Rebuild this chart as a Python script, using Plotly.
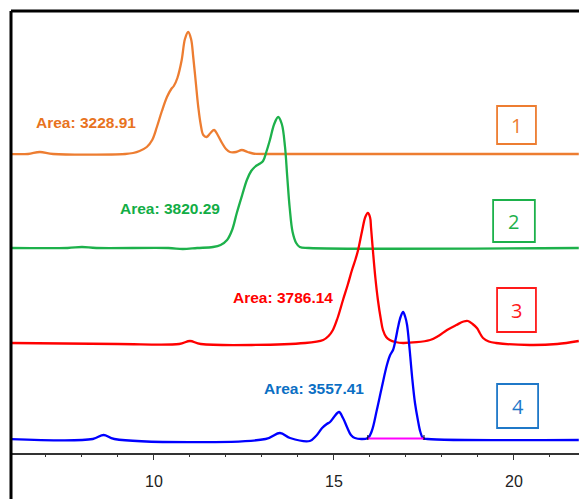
import plotly.graph_objects as go

# ---- data (retention time in min, signal in arbitrary units above each trace's baseline) ----
x1 = [6.0, 6.5, 6.83, 7.2, 9.2, 9.42, 9.6, 9.8, 9.95, 10.08, 10.22, 10.36, 10.48, 10.55, 10.65, 10.77, 10.86, 10.95, 11.03, 11.09,
      11.16, 11.23, 11.3, 11.37, 11.46, 11.57, 11.67, 11.77, 11.89, 12.0, 12.11, 12.28, 12.44, 12.6, 12.75, 13.5, 21.8]
y1 = [0, 0, 2, 0, 0, 1, 3, 7, 14, 27, 43, 57, 65, 68, 76, 94, 115, 122, 115, 97,
      72, 47, 29, 19, 17, 21, 24, 19, 11, 5, 2, 2, 4, 2, 0.5, 0, 0]

x2 = [6.0, 7.6, 8.0, 8.4, 10.4, 10.8, 11.2, 11.64, 11.85, 12.03, 12.17, 12.3, 12.45, 12.58, 12.7, 12.8, 12.92, 13.03, 13.12, 13.22,
      13.34, 13.45, 13.55, 13.64, 13.7, 13.77, 13.85, 13.95, 14.05, 14.3, 21.8]
y2 = [0, 0, 1, 0, 0, -1, 0, 1, 3, 8, 18, 35, 53, 68, 77, 81, 84, 87, 96, 108,
      124, 131, 124, 101, 72, 40, 16, 5, 1, 0, 0]

x3 = [6.0, 9.0, 10.7, 11.0, 11.3, 14.2, 14.7, 14.85, 14.97, 15.1, 15.25, 15.38, 15.5, 15.6, 15.67, 15.78, 15.87, 15.94, 16.0, 16.03,
      16.08, 16.15, 16.22, 16.3, 16.36, 16.45, 16.55, 16.7, 16.92, 17.67, 17.9, 18.14, 18.4, 18.6, 18.72, 18.85, 18.97, 19.05, 19.14,
      19.3, 19.5, 20.44, 21.2, 21.8]
y3 = [0, -1, -1, 2, -1, 0, 3, 7, 13, 25, 43, 58, 73, 84, 93, 112, 126, 130, 126, 115,
      93, 65, 43, 24, 13, 6, 3, 1, 0, 3, 7, 13, 18, 21.5, 22, 19, 15, 10, 5,
      1.5, 0, -2, -1, 2]

x4 = [6.0, 8.3, 8.6, 8.9, 13.1, 13.5, 13.78, 14.33, 14.5, 14.67, 14.8, 14.89, 15.0, 15.14, 15.25, 15.36, 15.47, 15.58, 15.94, 16.05,
      16.19, 16.33, 16.47, 16.56, 16.64, 16.72, 16.78, 16.85, 16.92, 16.98, 17.03, 17.1, 17.17, 17.25, 17.33, 17.4, 17.47, 17.6, 21.8]
y4 = [0, 0, 4, 0, 0, 6, 1, -2, 3, 11, 15, 17, 22, 27, 21, 12, 4, 1, 1, 8,
      29, 52, 74, 84, 89, 101, 112, 122, 127, 122, 114, 90, 62, 36, 19, 7, 1, 0, -1]

offsets = [299, 205, 110, 14]
areas = ["Area: 3228.91", "Area: 3820.29", "Area: 3786.14", "Area: 3557.41"]
labels = ["1", "2", "3", "4"]
integ_x = [15.94, 17.5]

line_colors = ["#ED7D31", "#1DB14B", "#FF0000", "#0000FF"]
text_colors = ["#E8731E", "#12AD45", "#FF0000", "#0B6FC4"]
box_colors = ["#ED7D31", "#1DB14B", "#FF1A1A", "#1F78C8"]

fig = go.Figure()
series = [(x1, y1), (x2, y2), (x3, y3), (x4, y4)]
for (xs, ys), off, c in zip(series, offsets, line_colors):
    fig.add_trace(go.Scatter(x=xs, y=[v + off for v in ys], mode="lines",
                             line=dict(color=c, width=2.3, shape="spline", smoothing=1.0),
                             hoverinfo="skip", showlegend=False))

# integration baseline
fig.add_trace(go.Scatter(x=integ_x, y=[offsets[3] + 0.5] * 2, mode="lines",
                         line=dict(color="#FF00FF", width=2), showlegend=False, hoverinfo="skip"))
for xv in integ_x:
    fig.add_shape(type="line", x0=xv, x1=xv, y0=offsets[3] - 1, y1=offsets[3] + 4,
                  line=dict(color="black", width=1))

# Area labels
label_pos = [(8.1, 331), (10.44, 245), (13.58, 156), (14.45, 65)]
for (lx, ly), t, c in zip(label_pos, areas, text_colors):
    fig.add_annotation(x=lx, y=ly, text="<b>" + t + "</b>", showarrow=False,
                       font=dict(family="Liberation Sans, Arial", size=15.5, color=c))

# numbered boxes
boxes = [(19.53, 20.61, 309, 347), (19.42, 20.58, 211, 253), (19.53, 20.61, 121, 165), (19.53, 20.67, 25, 69)]
for (bx0, bx1, by0, by1), lab, c in zip(boxes, labels, box_colors):
    fig.add_shape(type="rect", x0=bx0, x1=bx1, y0=by0, y1=by1, line=dict(color=c, width=1.8))
    fig.add_annotation(x=(bx0 + bx1) / 2, y=(by0 + by1) / 2, text=lab, showarrow=False,
                       font=dict(family="Open Sans, Liberation Sans", size=20, color=c))

# frame lines (left and top)
fig.add_shape(type="line", xref="paper", yref="paper", x0=0, x1=0, y0=-0.2, y1=1.0,
              line=dict(color="black", width=3))
fig.add_shape(type="line", xref="paper", yref="paper", x0=0, x1=1.05, y0=1.0, y1=1.0,
              line=dict(color="black", width=3))

fig.update_layout(
    width=579, height=499,
    margin=dict(l=11, r=0, t=11, b=46),
    paper_bgcolor="white", plot_bgcolor="white",
    xaxis=dict(range=[6.028, 21.806], showgrid=False, zeroline=False,
               showline=True, linecolor="#333333", linewidth=1.5,
               tick0=0, dtick=5, ticks="outside", ticklen=5, tickcolor="#333333", tickwidth=1.2,
               tickfont=dict(family="Liberation Sans, Arial", size=16, color="#222222"),
               ticklabelstandoff=8,
               minor=dict(dtick=1, ticks="outside", ticklen=2.5, tickcolor="#333333", tickwidth=1)),
    yaxis=dict(range=[0, 442], showgrid=False, zeroline=False, showline=False,
               showticklabels=False, ticks=""),
)

fig.write_html("out.html")
